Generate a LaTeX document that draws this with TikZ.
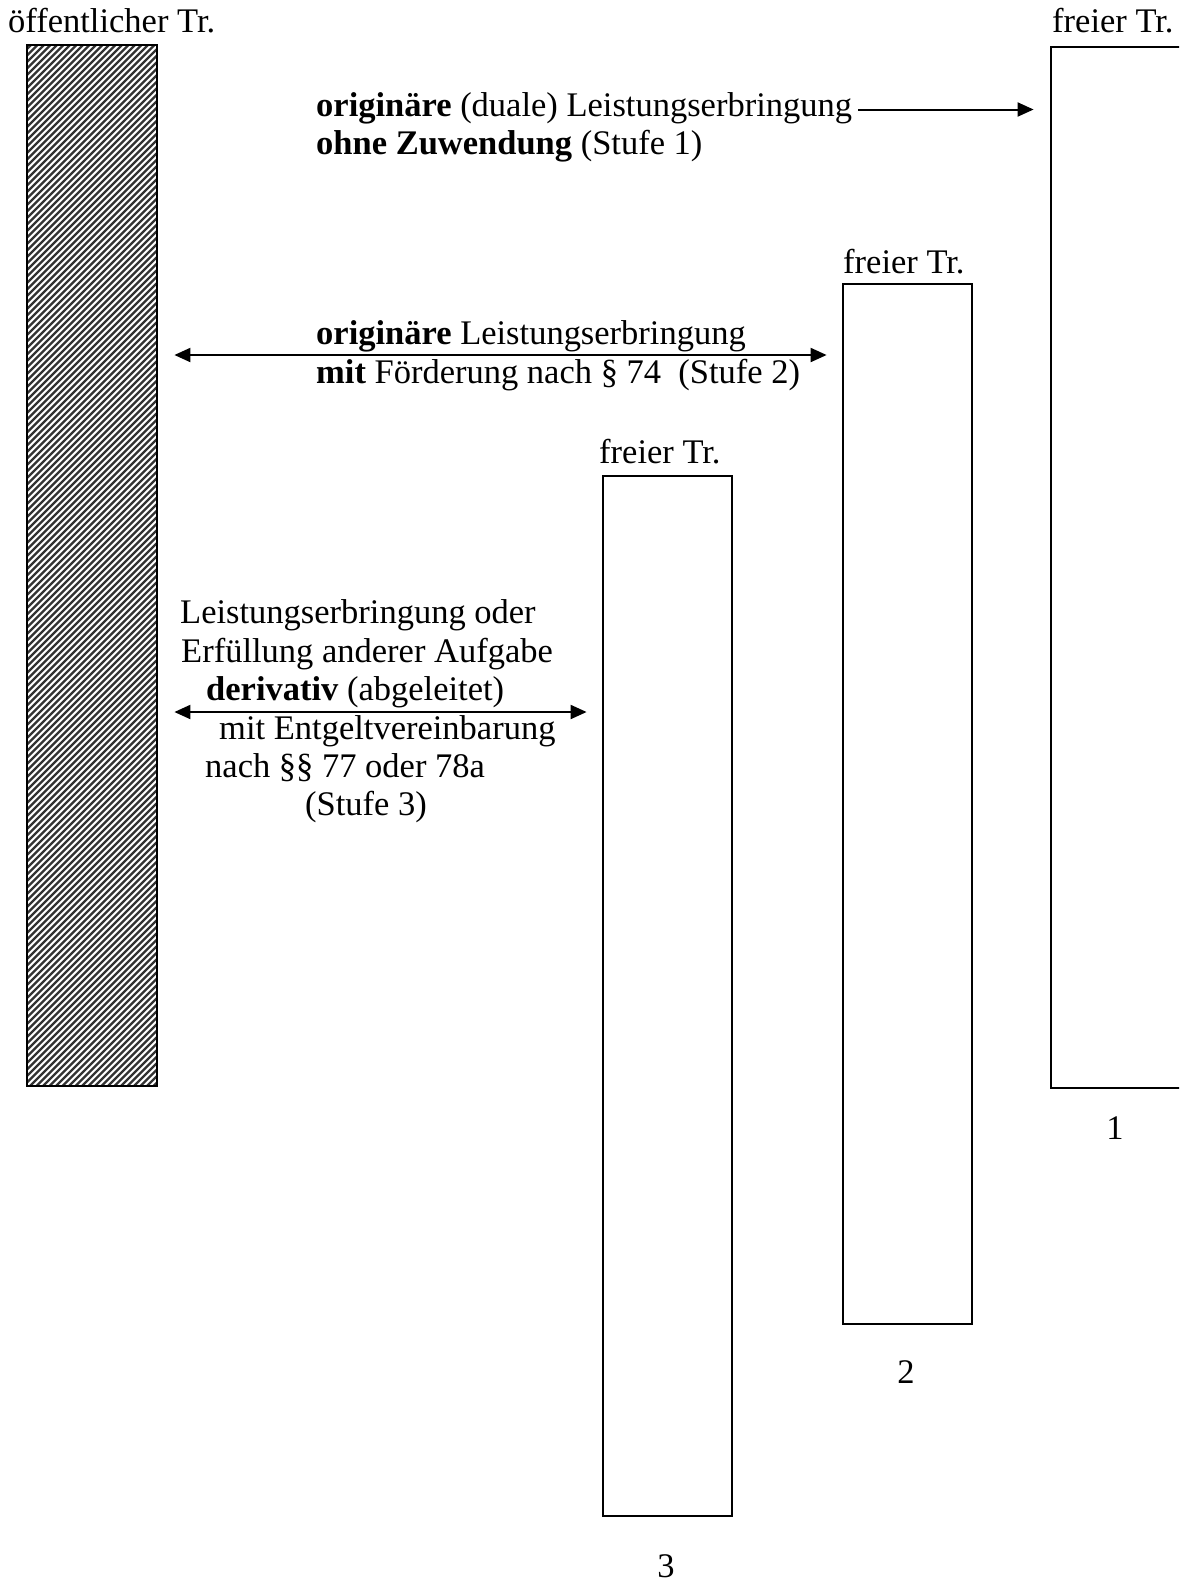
\documentclass[tikz,border=0pt]{standalone}
\usepackage{fontspec}
\setmainfont{Liberation Serif}
\usetikzlibrary{arrows.meta}
\tikzset{
  lbl/.style={anchor=base west, inner sep=0pt, font=\fontsize{34.5}{40}\selectfont},
  num/.style={anchor=base, inner sep=0pt, font=\fontsize{34.5}{40}\selectfont},
  tbox/.style={draw, line width=2.8pt, rectangle, inner sep=0pt, minimum width=129pt, minimum height=1040pt},
  arr/.style={line width=2pt, -{Triangle[length=16pt,width=14pt]}},
  dblarr/.style={line width=2pt, {Triangle[length=16pt,width=14pt]}-{Triangle[length=16pt,width=14pt]}},
  hatch/.style={line width=2.3pt, black!80}
}
\begin{document}
\begin{tikzpicture}[x=1pt,y=-1pt]
\useasboundingbox (0,0) rectangle (1179,1583);
\clip (0,0) rectangle (1179,1583);

% public carrier bar (hatched)
\begin{scope}
  \clip (27,45) rectangle (157,1086);
  \foreach \k in {0,...,186} {
    \pgfmathsetmacro{\xa}{-1040+\k*6.5}
    \draw[hatch] (\xa,1090) -- (\xa+1060,30);
  }
\end{scope}
\node[tbox, minimum width=130pt, minimum height=1041pt] (bar) at (92,565.5) {};

% free carrier boxes
\node[tbox, minimum width=130pt, minimum height=1041pt] (box1) at (1116,567.5) {};
\node[tbox] (box2) at (907.5,804) {};
\node[tbox] (box3) at (667.5,996) {};

% labels
\node[lbl] (oeff) at (8,32) {öffentlicher Tr.};
\node[lbl] (fr1) at (1052,32) {freier Tr.};
\node[lbl] (fr2) at (843,273) {freier Tr.};
\node[lbl] (fr3) at (599,463) {freier Tr.};

\node[lbl] (s1a) at (316,116) {\textbf{originäre} (duale) Leistungserbringung};
\node[lbl] (s1b) at (316,154) {\textbf{ohne Zuwendung} (Stufe 1)};

\node[lbl] (s2a) at (316,344) {\textbf{originäre} Leistungserbringung};
\node[lbl] (s2b) at (316,383) {\textbf{mit} Förderung nach § 74\ \ (Stufe 2)};

\node[lbl] (s3a) at (180,623) {Leistungserbringung oder};
\node[lbl] (s3b) at (181,662) {Erfüllung anderer Aufgabe};
\node[lbl] (s3c) at (206,700) {\textbf{derivativ} (abgeleitet)};
\node[lbl] (s3d) at (219,739) {mit Entgeltvereinbarung};
\node[lbl] (s3e) at (205,777) {nach §§ 77 oder 78a};
\node[lbl] (s3f) at (305,815) {(Stufe 3)};

\node[num] (n1) at (1115,1139) {1};
\node[num] (n2) at (906,1383) {2};
\node[num] (n3) at (666,1577) {3};

% arrows
\coordinate (y1) at (0,109.5);
\coordinate (y2) at (0,355);
\coordinate (y3) at (0,712);
\draw[arr, shorten <=6pt, shorten >=16pt] (s1a.east |- y1) -- (box1.west |- y1);
\draw[dblarr, shorten <=16pt, shorten >=15pt] (bar.east |- y2) -- (box2.west |- y2);
\draw[dblarr, shorten <=16pt, shorten >=15pt] (bar.east |- y3) -- (box3.west |- y3);
\end{tikzpicture}
\end{document}
